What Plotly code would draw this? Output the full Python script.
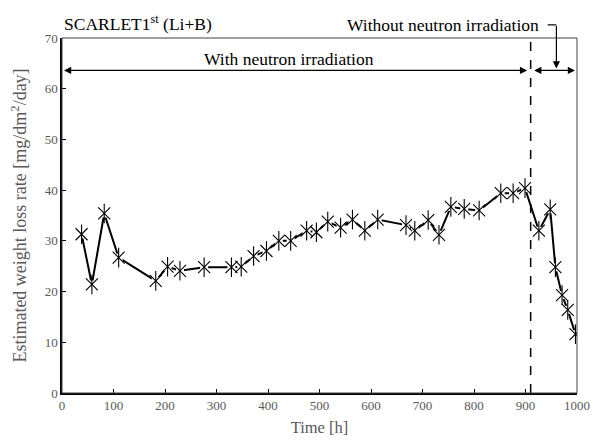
import plotly.graph_objects as go

time_h = [38, 58, 82, 110, 182, 205, 229, 276, 329, 348, 372, 397, 421, 444, 475, 494,
          516, 541, 564, 588, 613, 668, 685, 711, 732, 755, 781, 810, 852, 876, 899,
          926, 948, 958, 971, 982, 997]
rate = [31.3, 21.4, 35.4, 26.7, 22.1, 24.9, 24.1, 24.8, 24.8, 24.9, 27.0, 28.0, 30.0, 30.0,
        32.0, 31.7, 33.8, 32.6, 34.2, 32.0, 34.2, 33.1, 32.0, 34.1, 31.2, 36.7, 36.3, 36.0,
        39.4, 39.4, 40.4, 32.0, 36.2, 24.8, 19.3, 16.4, 11.6]
boundary_h = 910
x_ticks = list(range(0, 1001, 100))
y_ticks = list(range(0, 71, 10))

FONT = "Liberation Serif, Times New Roman, serif"
GRAY = "#595959"
BIG = 17.5

fig = go.Figure()
fig.add_trace(go.Scatter(x=time_h, y=rate, mode="lines",
                         line=dict(color="black", width=2), hoverinfo="skip"))
fig.add_trace(go.Scatter(x=time_h, y=rate, mode="markers",
                         marker=dict(symbol="square", size=8, color="white",
                                     line=dict(width=0)), hoverinfo="skip"))
fig.add_trace(go.Scatter(x=time_h, y=rate, mode="markers",
                         marker=dict(symbol="x-thin-open", size=12, color="black",
                                     line=dict(color="black", width=1.1))))
fig.add_trace(go.Scatter(x=time_h, y=rate, mode="markers",
                         marker=dict(symbol="line-ns-open", size=14, color="black",
                                     line=dict(color="black", width=1.1))))

# vertical dashed boundary
fig.add_shape(type="line", xref="x", yref="y", x0=boundary_h, x1=boundary_h, y0=0, y1=70,
              line=dict(color="black", width=1.5, dash="dash"))
# frame
fig.add_shape(type="rect", xref="paper", yref="paper", x0=0, x1=1, y0=0, y1=1,
              line=dict(color="#404040", width=1))

arrow_y = 63.6
top_y = 1.037  # paper fraction for the label above the plot
# short connector from the label to the down arrow
fig.add_shape(type="line", xref="paper", yref="paper", x0=0.943, x1=0.960, y0=top_y, y1=top_y,
              line=dict(color="black", width=1.2))

anns = [
    dict(x=0, y=arrow_y, ax=boundary_h, ay=arrow_y, xref="x", yref="y", axref="x", ayref="y",
         text="", showarrow=True, arrowhead=2, arrowside="end+start", arrowsize=1.2,
         arrowwidth=1.2, arrowcolor="black", standoff=2, startstandoff=2),
    dict(x=1000, y=arrow_y, ax=boundary_h, ay=arrow_y, xref="x", yref="y", axref="x", ayref="y",
         text="", showarrow=True, arrowhead=2, arrowside="end+start", arrowsize=1.2,
         arrowwidth=1.2, arrowcolor="black", standoff=2, startstandoff=2),
    dict(x=960, y=arrow_y + 0.4, ax=0, ay=-44, xref="x", yref="y",
         text="", showarrow=True, arrowhead=2, arrowsize=1.2, arrowwidth=1.2,
         arrowcolor="black"),
    dict(x=440, y=65.9, xref="x", yref="y", text="With neutron irradiation", showarrow=False,
         font=dict(family=FONT, size=BIG, color="black")),
    dict(x=930, y=top_y, xref="x", yref="paper", xanchor="right", yanchor="middle",
         text="Without neutron irradiation",
         showarrow=False, font=dict(family=FONT, size=BIG, color="black")),
    dict(x=0, y=1.042, xref="paper", yref="paper", xanchor="left", yanchor="middle",
         text="SCARLET1<sup>st</sup> (Li+B)", showarrow=False,
         font=dict(family=FONT, size=BIG, color="black")),
]

fig.update_layout(
    width=593, height=440,
    margin=dict(l=62, r=16, t=38, b=47),
    paper_bgcolor="white", plot_bgcolor="white",
    showlegend=False,
    font=dict(family=FONT, color=GRAY),
    annotations=anns,
    xaxis=dict(range=[0, 1000], tickvals=x_ticks, showgrid=False, zeroline=False,
               automargin=False,
               showline=True, linecolor="black", linewidth=1.5, ticks="inside",
               ticklen=4, tickcolor="black", tickfont=dict(family=FONT, size=13, color=GRAY),
               title=dict(text="Time [h]", font=dict(family=FONT, size=16.5, color=GRAY), standoff=9)),
    yaxis=dict(range=[0, 70], tickvals=y_ticks, showgrid=False, zeroline=False,
               automargin=False,
               showline=True, linecolor="black", linewidth=1.5, ticks="inside",
               ticklen=4, tickcolor="black", tickfont=dict(family=FONT, size=13, color=GRAY),
               title=dict(text="Estimated weight loss rate [mg/dm<sup>2</sup>/day]",
                          font=dict(family=FONT, size=18, color=GRAY), standoff=13)),
)

fig.write_html("out.html")
